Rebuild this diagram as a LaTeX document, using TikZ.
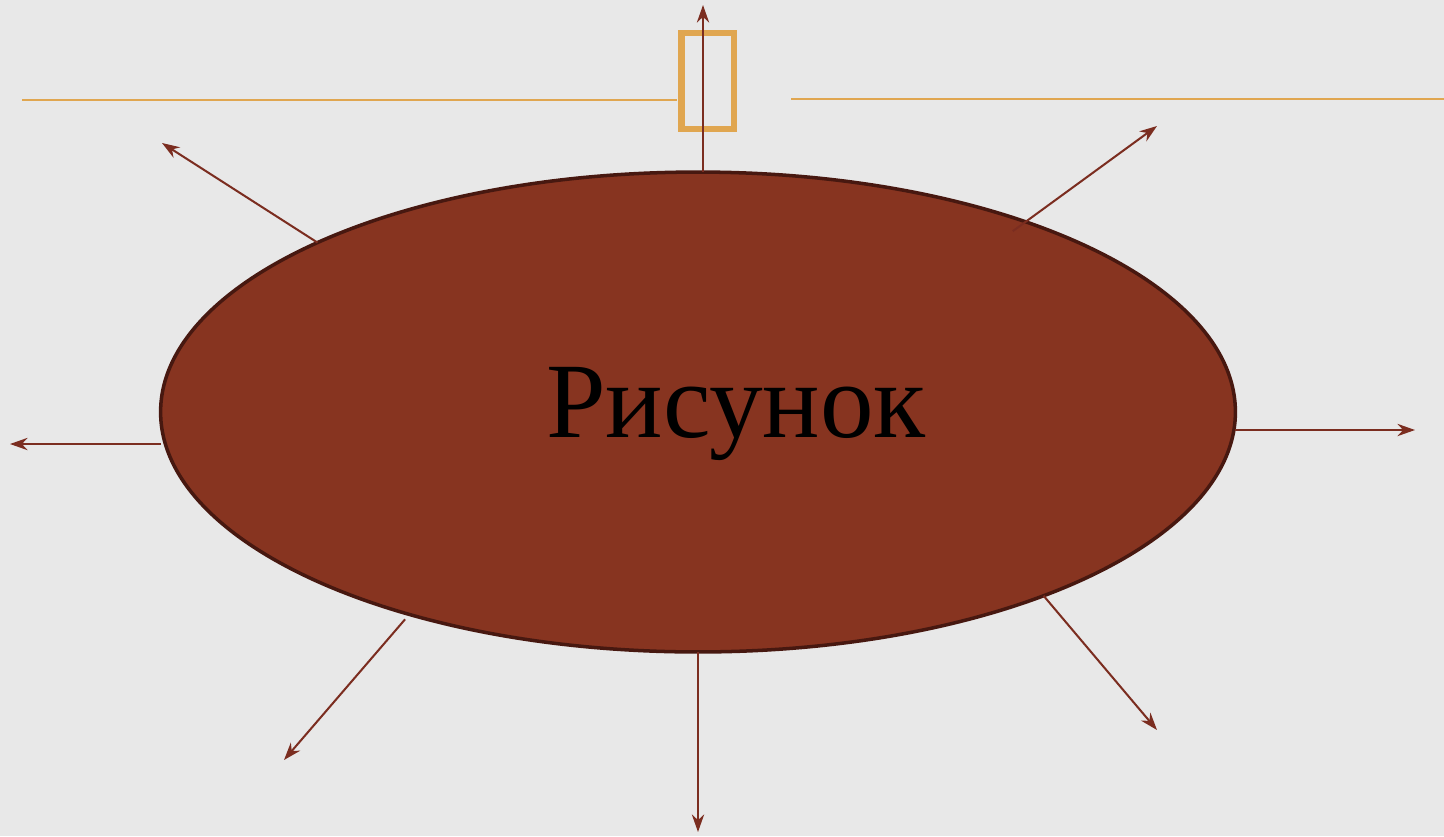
\documentclass[tikz,border=0pt]{standalone}
\usepackage{fontspec}
\setmainfont{Liberation Serif}
\usetikzlibrary{shapes.geometric,arrows.meta}
\definecolor{bgcol}{HTML}{E8E8E8}
\definecolor{brownfill}{HTML}{873420}
\definecolor{browndark}{HTML}{471810}
\definecolor{arrowcol}{HTML}{7B2D20}
\definecolor{ochre}{HTML}{E0A650}
\begin{document}
\begin{tikzpicture}[x=0.02cm, y=-0.02cm,
  ray/.style={arrowcol, line width=1.15pt, -{Stealth[length=10pt,width=7pt]}},
  rule/.style={ochre, line width=1.2pt}]
\fill[bgcol] (0,0) rectangle (1444,836);
\useasboundingbox (0,0) rectangle (1444,836);
% top lines and box
\draw[rule] (22,100) to (677,100);
\draw[rule] (791,99) to (1444,99);
\node[draw=ochre, line width=3.7pt, minimum width=1.05cm, minimum height=1.92cm, inner sep=0pt, outer sep=0pt] (box) at (707.75,81) {};
% main ellipse
\node[ellipse, draw=browndark, fill=brownfill, line width=2pt, minimum width=21.5cm, minimum height=9.6cm, inner sep=0pt, outer sep=0pt] (pic) at (698,412) {};
\node[anchor=base, font=\fontsize{61}{70}\selectfont] (lbl) at (736,437) {Рисунок};
% ends of the rays
\coordinate (tend) at (703,5);
\coordinate (tlend) at (162,143);
\coordinate (trend) at (1157,126);
\coordinate (lend) at (10,444);
\coordinate (rend) at (1415,430);
\coordinate (blend) at (284,760);
\coordinate (bend) at (698,832);
\coordinate (brend) at (1157,730);
\draw[ray] (tend |- pic.north) to (tend);
\draw[ray] (pic.156.4) to (tlend);
\draw[ray] ([shift={(-14,9)}]pic.30.2) to (trend);
\draw[ray] (lend -| pic.west) to (lend);
\draw[ray] (rend -| pic.east) to (rend);
\draw[ray] ([shift={(-4,5)}]pic.215.4) to (blend);
\draw[ray] (pic.south) to (bend);
\draw[ray] (pic.332.3) to (brend);
\end{tikzpicture}
\end{document}
